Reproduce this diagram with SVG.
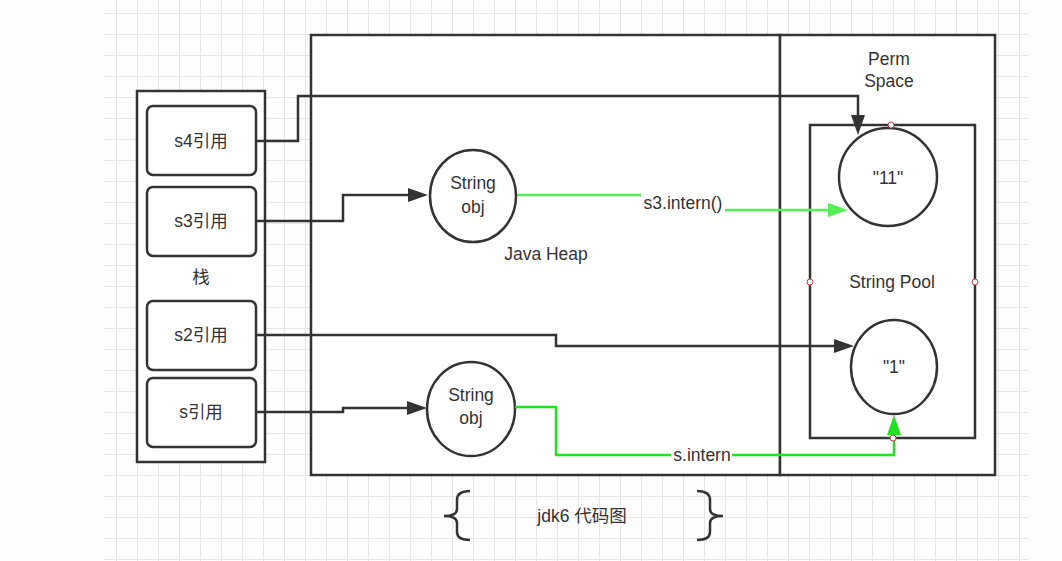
<svg xmlns="http://www.w3.org/2000/svg" width="1062" height="561" viewBox="0 0 1062 561">
<style>
.box{fill:#fff;stroke:#333;stroke-width:2.5}
.rbox{fill:#fff;stroke:#333;stroke-width:2.5}
.cir{fill:#fff;stroke:#333;stroke-width:2.5}
.edge{fill:none;stroke:#333;stroke-width:2.5}
.g1{fill:none;stroke:#55ee55;stroke-width:2.5}
.g2{fill:none;stroke:#22e022;stroke-width:2.5}
.pt{fill:#fff;stroke:#c04040;stroke-width:1}
text{font-family:"Liberation Sans","Noto Sans CJK SC",sans-serif;font-size:17.5px;fill:#333;text-anchor:middle;dominant-baseline:central}
</style>
<defs>
<pattern id="grid" patternUnits="userSpaceOnUse" x="116" y="13" width="21" height="21">
<path d="M0,0.5 H21 M0.5,0 V21" fill="none" stroke="#e6e6e6" stroke-width="1"/>
</pattern>
<marker id="ab" markerUnits="userSpaceOnUse" markerWidth="22" markerHeight="16" refX="10" refY="7" orient="auto" viewBox="0 0 22 16">
<path d="M0,0 L20,7 L0,14 z" fill="#333"/>
</marker>
<marker id="ag1" markerUnits="userSpaceOnUse" markerWidth="22" markerHeight="16" refX="10" refY="7" orient="auto" viewBox="0 0 22 16">
<path d="M0,0 L20,7 L0,14 z" fill="#55ee55"/>
</marker>
<marker id="ag2" markerUnits="userSpaceOnUse" markerWidth="22" markerHeight="16" refX="10" refY="7" orient="auto" viewBox="0 0 22 16">
<path d="M0,0 L20,7 L0,14 z" fill="#22e022"/>
</marker>
</defs>
<rect width="1062" height="561" fill="#fdfdfd"/>
<rect x="104" y="0" width="924" height="561" fill="url(#grid)"/>

<g id="heap">
<rect class="box" x="311" y="35" width="469" height="440"/>
<text x="546" y="254">Java Heap</text>
</g>
<g id="perm">
<rect class="box" x="780" y="35" width="215" height="440"/>
<text x="889" y="59">Perm</text>
<text x="889" y="81">Space</text>
</g>
<g id="pool">
<rect class="box" x="810" y="125" width="165" height="313"/>
<text x="892" y="282">String Pool</text>
</g>
<g id="stack">
<rect class="box" x="137" y="91" width="128" height="371"/>
<text x="201" y="277">栈</text>
</g>
<g id="s4">
<rect class="rbox" x="147" y="106" width="109" height="69" rx="6"/>
<text x="201" y="141">s4引用</text>
</g>
<g id="s3">
<rect class="rbox" x="147" y="187" width="109" height="69" rx="6"/>
<text x="201" y="221">s3引用</text>
</g>
<g id="s2">
<rect class="rbox" x="147" y="301" width="109" height="69" rx="6"/>
<text x="201" y="335">s2引用</text>
</g>
<g id="s">
<rect class="rbox" x="147" y="378" width="109" height="69" rx="6"/>
<text x="201" y="412">s引用</text>
</g>
<g id="obj1">
<ellipse class="cir" cx="473" cy="196" rx="43" ry="46"/>
<text x="473" y="183">String</text>
<text x="473" y="207">obj</text>
</g>
<g id="obj2">
<ellipse class="cir" cx="471" cy="409" rx="44" ry="47"/>
<text x="471" y="395">String</text>
<text x="471" y="418">obj</text>
</g>
<g id="str11">
<ellipse class="cir" cx="888" cy="177" rx="49" ry="49"/>
<text x="888" y="178">"11"</text>
</g>
<g id="str1">
<ellipse class="cir" cx="894" cy="367" rx="43" ry="47"/>
<text x="894" y="367">"1"</text>
</g>

<g id="connectors">
<path class="edge" d="M256,141 H298 V96 H858 V125" marker-end="url(#ab)"/>
<path class="edge" d="M256,221 H343 V195 H418" marker-end="url(#ab)"/>
<path class="edge" d="M256,335 H556 V346 H844" marker-end="url(#ab)"/>
<path class="edge" d="M256,412 H343 V408 H417" marker-end="url(#ab)"/>
<path class="g1" d="M517,195 H683 V210 H838" marker-end="url(#ag1)"/>
<rect x="641" y="193" width="84" height="20" fill="#fff"/>
<text x="683" y="203">s3.intern()</text>
<path class="g2" d="M515,407 H556 V455 H894 V425" marker-end="url(#ag2)"/>
<rect x="671" y="446" width="61" height="18" fill="#fff"/>
<text x="702" y="455">s.intern</text>
</g>

<g id="points">
<circle class="pt" cx="891" cy="125" r="3"/>
<circle class="pt" cx="810" cy="282" r="3"/>
<circle class="pt" cx="975" cy="282" r="3"/>
<circle class="pt" cx="893" cy="438" r="3"/>
</g>

<g id="caption">
<path class="edge" d="M470,491 Q457,491 457,500 V509 Q457,516 444,516 Q457,516 457,523 V532 Q457,540 470,540"/>
<path class="edge" d="M697,491 Q710,491 710,500 V509 Q710,516 723,516 Q710,516 710,523 V532 Q710,540 697,540"/>
<text x="582" y="516">jdk6 代码图</text>
</g>
</svg>
